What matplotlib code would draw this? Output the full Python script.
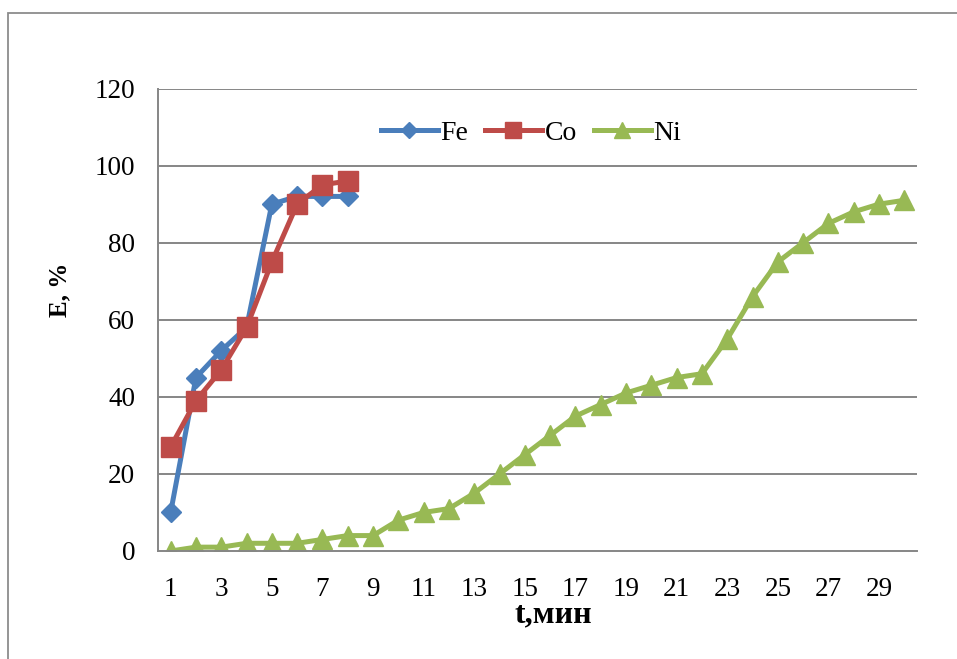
import matplotlib.pyplot as plt
from matplotlib.patches import Rectangle

# Extraction degree E (%) versus time t (min)
t_fe = [1, 2, 3, 4, 5, 6, 7, 8]
e_fe = [10, 45, 52, 58, 90, 92, 92, 92]

t_co = [1, 2, 3, 4, 5, 6, 7, 8]
e_co = [27, 39, 47, 58, 75, 90, 95, 96]

t_ni = list(range(1, 31))
e_ni = [0, 1, 1, 2, 2, 2, 3, 4, 4, 8, 10, 11, 15, 20, 25, 30, 35, 38,
        41, 43, 45, 46, 55, 66, 75, 80, 85, 88, 90, 91]

x_ticks = list(range(1, 31, 2))
y_ticks = [0, 20, 40, 60, 80, 100, 120]

plt.rcParams['font.family'] = ['Liberation Serif', 'DejaVu Serif']

W, H = 957, 659
fig = plt.figure(figsize=(W / 100, H / 100), dpi=100)

# outer chart frame
fig.patches.append(Rectangle((8 / W, -0.1), 1.2, (H - 13) / H + 0.1,
                             transform=fig.transFigure, fill=False,
                             edgecolor='#8c8c8c', linewidth=1.3))

left, right, top, bottom = 158, 917, 88.5, 551
ax = fig.add_axes([left / W, 1 - bottom / H, (right - left) / W, (bottom - top) / H])

grid_c = '#868686'
for y in y_ticks[1:]:
    ax.axhline(y, color=grid_c, linewidth=1.4, zorder=1)

ax.plot(t_fe, e_fe, color='#4A7EBB', linewidth=3.6, marker='D', markersize=10.5,
        label='Fe', zorder=3)
ax.plot(t_co, e_co, color='#BE4B48', linewidth=3.6, marker='s', markersize=14,
        label='Co', zorder=4)
ax.plot(t_ni, e_ni, color='#98B954', linewidth=3.6, marker='^', markersize=14.5,
        label='Ni', zorder=2)

ax.set_xlim(0.5, 30.5)
ax.set_ylim(0, 120)
ax.set_xticks(x_ticks)
ax.set_yticks(y_ticks)
ax.tick_params(axis='both', length=0, labelsize=19.5, colors='black')
ax.tick_params(axis='x', pad=19)
ax.tick_params(axis='y', pad=16.5)

for s in ['top', 'right']:
    ax.spines[s].set_visible(False)
for s in ['left', 'bottom']:
    ax.spines[s].set_color(grid_c)
    ax.spines[s].set_linewidth(1.4)

fig.text(553 / W, 1 - 615 / H, 't,мин', fontsize=23, fontweight='bold',
         ha='center', va='center')
fig.text(60 / W, 1 - 290 / H, 'E, %', fontsize=18, fontweight='bold',
         ha='center', va='center', rotation=90)

leg = fig.legend(loc='center', bbox_to_anchor=(531 / W, 1 - 133 / H), ncol=3,
                 frameon=False, fontsize=20, handlelength=2.05,
                 columnspacing=0.6, handletextpad=0.1, markerscale=0.8,
                 borderpad=0, borderaxespad=0)

fig.savefig('out.png', dpi=100)
